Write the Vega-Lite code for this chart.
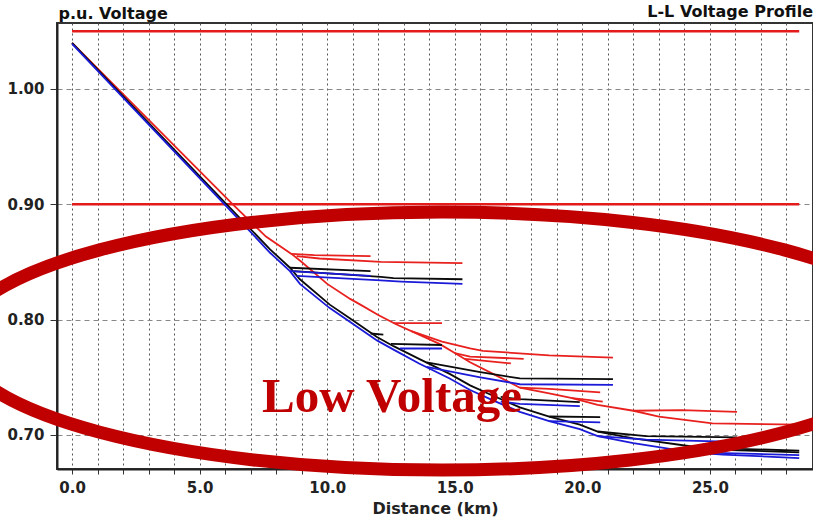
{
  "$schema": "https://vega.github.io/schema/vega-lite/v6.json",
  "width": 756,
  "height": 446,
  "autosize": {"type": "none"},
  "padding": {"left": 57, "top": 23, "right": 0, "bottom": 50},
  "background": "white",
  "config": {"view": {"stroke": "#333", "strokeWidth": 2}, "font": "DejaVu Sans"},
  "title": {"text": "L-L Voltage Profile", "anchor": "end", "frame": "group", "font": "DejaVu Sans", "fontSize": 16, "fontWeight": "bold", "color": "#111", "offset": 5, "dy": 20},
  "datasets": {
    "limits": [
      {"x": 0, "x2": 28.5, "y": 1.05},
      {"x": 0, "x2": 28.5, "y": 0.90}
    ],
    "curves": [
      {"s": "R0", "c": "R", "x": 0, "y": 1.04},
      {"s": "R0", "c": "R", "x": 6.3, "y": 0.90},
      {"s": "R0", "c": "R", "x": 7.6, "y": 0.872},
      {"s": "R0", "c": "R", "x": 8.6, "y": 0.857},
      {"s": "R0", "c": "R", "x": 9.0, "y": 0.850},
      {"s": "R0", "c": "R", "x": 10.0, "y": 0.831},
      {"s": "R0", "c": "R", "x": 10.9, "y": 0.818},
      {"s": "R0", "c": "R", "x": 11.3, "y": 0.813},
      {"s": "R0", "c": "R", "x": 12.0, "y": 0.804},
      {"s": "R0", "c": "R", "x": 12.7, "y": 0.796},
      {"s": "R0", "c": "R", "x": 13.6, "y": 0.787},
      {"s": "R0", "c": "R", "x": 14.4, "y": 0.779},
      {"s": "R0", "c": "R", "x": 15.0, "y": 0.771},
      {"s": "R0", "c": "R", "x": 15.6, "y": 0.763},
      {"s": "R0", "c": "R", "x": 16.5, "y": 0.753},
      {"s": "R0", "c": "R", "x": 17.55, "y": 0.741},
      {"s": "R0", "c": "R", "x": 18.7, "y": 0.736},
      {"s": "R0", "c": "R", "x": 19.6, "y": 0.732},
      {"s": "R0", "c": "R", "x": 20.6, "y": 0.726},
      {"s": "R0", "c": "R", "x": 22.0, "y": 0.721},
      {"s": "R0", "c": "R", "x": 23.0, "y": 0.716},
      {"s": "R0", "c": "R", "x": 25.1, "y": 0.710},
      {"s": "R0", "c": "R", "x": 28.5, "y": 0.709},
      {"s": "R1", "c": "R", "x": 8.6, "y": 0.857},
      {"s": "R1", "c": "R", "x": 9.5, "y": 0.856},
      {"s": "R1", "c": "R", "x": 11.7, "y": 0.855},
      {"s": "R2", "c": "R", "x": 8.8, "y": 0.855},
      {"s": "R2", "c": "R", "x": 9.7, "y": 0.853},
      {"s": "R2", "c": "R", "x": 12.1, "y": 0.850},
      {"s": "R2", "c": "R", "x": 15.3, "y": 0.849},
      {"s": "R3", "c": "R", "x": 12.6, "y": 0.797},
      {"s": "R3", "c": "R", "x": 14.5, "y": 0.797},
      {"s": "R4", "c": "R", "x": 13.3, "y": 0.790},
      {"s": "R4", "c": "R", "x": 14.5, "y": 0.781},
      {"s": "R4", "c": "R", "x": 15.6, "y": 0.775},
      {"s": "R4", "c": "R", "x": 16.1, "y": 0.773},
      {"s": "R4", "c": "R", "x": 18.7, "y": 0.769},
      {"s": "R4", "c": "R", "x": 21.2, "y": 0.767},
      {"s": "R5", "c": "R", "x": 15.0, "y": 0.771},
      {"s": "R5", "c": "R", "x": 15.6, "y": 0.768},
      {"s": "R5", "c": "R", "x": 17.7, "y": 0.766},
      {"s": "R6", "c": "R", "x": 15.4, "y": 0.766},
      {"s": "R6", "c": "R", "x": 17.2, "y": 0.762},
      {"s": "R7", "c": "R", "x": 17.55, "y": 0.741},
      {"s": "R7", "c": "R", "x": 18.7, "y": 0.740},
      {"s": "R7", "c": "R", "x": 20.7, "y": 0.737},
      {"s": "R8", "c": "R", "x": 22.0, "y": 0.721},
      {"s": "R8", "c": "R", "x": 23.9, "y": 0.7215},
      {"s": "R8", "c": "R", "x": 26.06, "y": 0.720},
      {"s": "R9", "c": "R", "x": 19.6, "y": 0.732},
      {"s": "R9", "c": "R", "x": 20.8, "y": 0.729},
      {"s": "K0", "c": "K", "x": 0, "y": 1.04},
      {"s": "K0", "c": "K", "x": 6.06, "y": 0.90},
      {"s": "K0", "c": "K", "x": 7.76, "y": 0.861},
      {"s": "K0", "c": "K", "x": 8.54, "y": 0.845},
      {"s": "K0", "c": "K", "x": 8.93, "y": 0.835},
      {"s": "K0", "c": "K", "x": 10.1, "y": 0.813},
      {"s": "K0", "c": "K", "x": 10.9, "y": 0.801},
      {"s": "K0", "c": "K", "x": 11.95, "y": 0.785},
      {"s": "K0", "c": "K", "x": 12.6, "y": 0.777},
      {"s": "K0", "c": "K", "x": 13.6, "y": 0.766},
      {"s": "K0", "c": "K", "x": 14.8, "y": 0.753},
      {"s": "K0", "c": "K", "x": 15.6, "y": 0.743},
      {"s": "K0", "c": "K", "x": 16.5, "y": 0.734},
      {"s": "K0", "c": "K", "x": 17.55, "y": 0.724},
      {"s": "K0", "c": "K", "x": 18.7, "y": 0.716},
      {"s": "K0", "c": "K", "x": 19.9, "y": 0.709},
      {"s": "K0", "c": "K", "x": 20.6, "y": 0.703},
      {"s": "K0", "c": "K", "x": 22.0, "y": 0.697},
      {"s": "K0", "c": "K", "x": 24.3, "y": 0.690},
      {"s": "K0", "c": "K", "x": 25.5, "y": 0.687},
      {"s": "K0", "c": "K", "x": 28.5, "y": 0.685},
      {"s": "K1", "c": "K", "x": 8.54, "y": 0.845},
      {"s": "K1", "c": "K", "x": 11.7, "y": 0.842},
      {"s": "K2", "c": "K", "x": 8.7, "y": 0.842},
      {"s": "K2", "c": "K", "x": 12.1, "y": 0.837},
      {"s": "K2", "c": "K", "x": 12.6, "y": 0.836},
      {"s": "K2", "c": "K", "x": 15.3, "y": 0.835},
      {"s": "K3", "c": "K", "x": 11.7, "y": 0.788},
      {"s": "K3", "c": "K", "x": 12.2, "y": 0.787},
      {"s": "K4", "c": "K", "x": 12.5, "y": 0.779},
      {"s": "K4", "c": "K", "x": 14.5, "y": 0.778},
      {"s": "K5", "c": "K", "x": 13.9, "y": 0.763},
      {"s": "K5", "c": "K", "x": 16.0, "y": 0.7545},
      {"s": "K5", "c": "K", "x": 17.55, "y": 0.749},
      {"s": "K5", "c": "K", "x": 21.2, "y": 0.7485},
      {"s": "K6", "c": "K", "x": 16.8, "y": 0.733},
      {"s": "K6", "c": "K", "x": 17.55, "y": 0.731},
      {"s": "K6", "c": "K", "x": 19.9, "y": 0.7285},
      {"s": "K7", "c": "K", "x": 18.7, "y": 0.716},
      {"s": "K7", "c": "K", "x": 20.7, "y": 0.7155},
      {"s": "K8", "c": "K", "x": 20.6, "y": 0.703},
      {"s": "K8", "c": "K", "x": 22.5, "y": 0.699},
      {"s": "K8", "c": "K", "x": 26.06, "y": 0.698},
      {"s": "K9", "c": "K", "x": 24.5, "y": 0.689},
      {"s": "K9", "c": "K", "x": 28.5, "y": 0.6865},
      {"s": "B0", "c": "B", "x": 0, "y": 1.039},
      {"s": "B0", "c": "B", "x": 6.06, "y": 0.898},
      {"s": "B0", "c": "B", "x": 7.76, "y": 0.858},
      {"s": "B0", "c": "B", "x": 8.54, "y": 0.842},
      {"s": "B0", "c": "B", "x": 8.93, "y": 0.831},
      {"s": "B0", "c": "B", "x": 10.1, "y": 0.810},
      {"s": "B0", "c": "B", "x": 10.9, "y": 0.798},
      {"s": "B0", "c": "B", "x": 11.95, "y": 0.782},
      {"s": "B0", "c": "B", "x": 12.6, "y": 0.774},
      {"s": "B0", "c": "B", "x": 13.6, "y": 0.762},
      {"s": "B0", "c": "B", "x": 14.8, "y": 0.749},
      {"s": "B0", "c": "B", "x": 15.6, "y": 0.739},
      {"s": "B0", "c": "B", "x": 16.5, "y": 0.730},
      {"s": "B0", "c": "B", "x": 17.55, "y": 0.720},
      {"s": "B0", "c": "B", "x": 18.7, "y": 0.712},
      {"s": "B0", "c": "B", "x": 19.9, "y": 0.705},
      {"s": "B0", "c": "B", "x": 20.6, "y": 0.699},
      {"s": "B0", "c": "B", "x": 22.0, "y": 0.693},
      {"s": "B0", "c": "B", "x": 24.3, "y": 0.685},
      {"s": "B0", "c": "B", "x": 25.5, "y": 0.683},
      {"s": "B0", "c": "B", "x": 28.5, "y": 0.680},
      {"s": "B1", "c": "B", "x": 8.54, "y": 0.842},
      {"s": "B1", "c": "B", "x": 11.7, "y": 0.838},
      {"s": "B2", "c": "B", "x": 8.8, "y": 0.838},
      {"s": "B2", "c": "B", "x": 12.1, "y": 0.834},
      {"s": "B2", "c": "B", "x": 12.9, "y": 0.833},
      {"s": "B2", "c": "B", "x": 15.3, "y": 0.831},
      {"s": "B4", "c": "B", "x": 12.85, "y": 0.775},
      {"s": "B4", "c": "B", "x": 14.5, "y": 0.775},
      {"s": "B5", "c": "B", "x": 13.9, "y": 0.759},
      {"s": "B5", "c": "B", "x": 16.0, "y": 0.750},
      {"s": "B5", "c": "B", "x": 17.55, "y": 0.744},
      {"s": "B5", "c": "B", "x": 21.2, "y": 0.7435},
      {"s": "B6", "c": "B", "x": 16.8, "y": 0.729},
      {"s": "B6", "c": "B", "x": 17.55, "y": 0.727},
      {"s": "B6", "c": "B", "x": 19.9, "y": 0.725},
      {"s": "B7", "c": "B", "x": 18.7, "y": 0.712},
      {"s": "B7", "c": "B", "x": 20.7, "y": 0.711},
      {"s": "B8", "c": "B", "x": 20.6, "y": 0.699},
      {"s": "B8", "c": "B", "x": 22.5, "y": 0.696},
      {"s": "B8", "c": "B", "x": 26.06, "y": 0.694},
      {"s": "B9", "c": "B", "x": 24.5, "y": 0.685},
      {"s": "B9", "c": "B", "x": 28.5, "y": 0.6825}
    ],
    "notes": [{"x": 12.54, "y": 0.7199, "label": "Low Voltage"}],
    "ring": [{"x": 14.5, "y": 0.7814}]
  },
  "encoding": {
    "x": {
      "field": "x", "type": "quantitative",
      "scale": {"domain": [-0.59, 29.04], "nice": false, "zero": false},
      "axis": {
        "title": "Distance (km)",
        "values": [0,1,2,3,4,5,6,7,8,9,10,11,12,13,14,15,16,17,18,19,20,21,22,23,24,25,26,27,28],
        "labelExpr": "datum.value % 5 === 0 ? format(datum.value, '.1f') : ''",
        "labelOverlap": false, "labelFlush": false, "labelBound": false,
        "grid": true, "gridDash": [2, 3], "gridColor": "#555", "gridWidth": 1,
        "tickSize": 5, "tickColor": "#333", "tickWidth": 1,
        "domainColor": "#222", "domainWidth": 2,
        "labelFont": "DejaVu Sans", "labelFontWeight": "bold", "labelFontSize": 15, "labelColor": "#222", "labelPadding": 6,
        "titleFont": "DejaVu Sans", "titleFontWeight": "bold", "titleFontSize": 16, "titleColor": "#222", "titlePadding": 5
      }
    },
    "y": {
      "field": "y", "type": "quantitative",
      "scale": {"domain": [0.6705, 1.0572], "nice": false, "zero": false},
      "axis": {
        "title": "p.u. Voltage", "titleAngle": 0, "titleAlign": "left", "titleX": 1, "titleY": -5, "titleBaseline": "alphabetic",
        "titleFont": "DejaVu Sans", "titleFontWeight": "bold", "titleFontSize": 16, "titleColor": "#111",
        "values": [0.7, 0.8, 0.9, 1.0], "format": ".2f",
        "grid": true, "gridDash": [5, 4], "gridColor": "#888", "gridWidth": 1,
        "tickSize": 7, "tickColor": "#333",
        "domainColor": "#222", "domainWidth": 2,
        "labelFont": "DejaVu Sans", "labelFontWeight": "bold", "labelFontSize": 15, "labelColor": "#222", "labelPadding": 6
      }
    }
  },
  "layer": [
    {
      "data": {"name": "limits"},
      "mark": {"type": "rule", "color": "#e31b1b", "strokeWidth": 2.5},
      "encoding": {"x2": {"field": "x2"}}
    },
    {
      "data": {"name": "curves"},
      "mark": {"type": "line", "strokeWidth": 1.8},
      "encoding": {
        "color": {"field": "c", "type": "nominal", "scale": {"domain": ["R", "K", "B"], "range": ["#e8211e", "#0a0a0a", "#1a1ad8"]}, "legend": null},
        "detail": {"field": "s"}
      }
    },
    {
      "data": {"name": "notes"},
      "mark": {"type": "text", "font": "Liberation Serif", "fontSize": 49, "fontWeight": "bold", "color": "#c00000", "align": "center", "baseline": "alphabetic"},
      "encoding": {"text": {"field": "label"}}
    },
    {
      "data": {"name": "ring"},
      "mark": {
        "type": "point",
        "shape": "M-1,0C-1,-0.1472,-0.5523,-0.2665,0,-0.2665C0.5523,-0.2665,1,-0.1472,1,0C1,0.1472,0.5523,0.2665,0,0.2665C-0.5523,0.2665,-1,0.1472,-1,0Z",
        "size": 937024, "filled": false, "stroke": "#c00000", "strokeWidth": 13, "opacity": 1, "strokeOpacity": 1
      }
    }
  ]
}
